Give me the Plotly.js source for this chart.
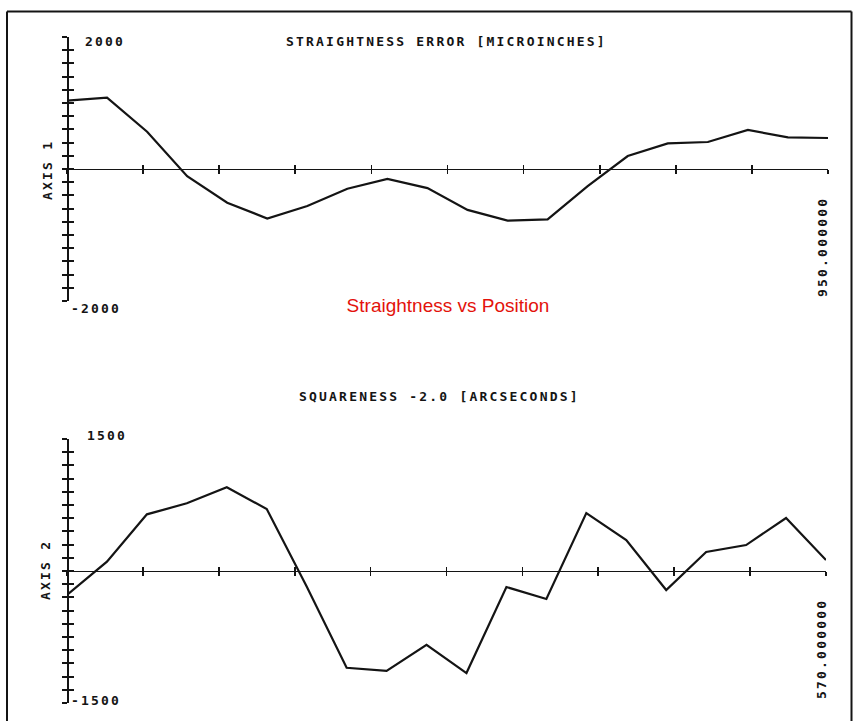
<!DOCTYPE html>
<html>
<head>
<meta charset="utf-8">
<script src="https://cdn.plot.ly/plotly-3.0.1.min.js"></script>
<style>
  html, body { margin: 0; padding: 0; background: #ffffff; }
  #chart { width: 854px; height: 721px; }
  .annotation-text { letter-spacing: 2.2px; }
</style>
</head>
<body>
<div id="chart"></div>
<script>
// ---- data ----
const positionTop = [0, 50, 100, 150, 200, 250, 300, 350, 400, 450, 500, 550, 600, 650, 700, 750, 800, 850, 900, 950];
const straightness = [1035, 1080, 565, -110, -510, -750, -560, -300, -150, -290, -620, -783, -763, -260, 197, 389, 409, 591, 480, 470];

const positionBottom = [0, 30, 60, 90, 120, 150, 180, 210, 240, 270, 300, 330, 360, 390, 420, 450, 480, 510, 540, 570];
const squareness = [-273, 106, 644, 769, 951, 705, -177, -1100, -1136, -840, -1160, -182, -318, 659, 352, -216, 216, 295, 602, 125];

const topTitle = 'STRAIGHTNESS ERROR [MICROINCHES]';
const bottomTitle = 'SQUARENESS -2.0 [ARCSECONDS]';
const topAxisLabel = 'AXIS 1';
const bottomAxisLabel = 'AXIS 2';
const topMaxLabel = '2000';
const topMinLabel = '-2000';
const bottomMaxLabel = '1500';
const bottomMinLabel = '-1500';
const topEndLabel = '950.000000';
const bottomEndLabel = '570.000000';
const chartTitle = 'Straightness vs Position';

// ---- layout helpers ----
const W = 854, H = 721;
const px = v => v / W;
const py = v => 1 - v / H;
const INK = '#141414';
const plotFont = { family: 'DejaVu Sans Mono', size: 13, color: INK, weight: 'bold' };

const topXDomain = [px(67), px(828)];
const botXDomain = [px(67), px(826)];
const topYDomain = [py(301), py(37)];
const botYDomain = [py(703), py(439)];

function xAxis(domain, range, dtick, pos, ticks, showline) {
  return {
    domain: domain, range: range, anchor: 'free', position: pos,
    showline: showline, linecolor: INK, linewidth: 1.3,
    ticks: ticks, ticklen: 4, tickwidth: 1.6, tickcolor: INK,
    tickmode: 'linear', tick0: 0, dtick: dtick,
    showticklabels: false, showgrid: false, zeroline: false, fixedrange: true
  };
}
function yAxis(domain, range, dtick, pos, ticks, showline) {
  return {
    domain: domain, range: range, anchor: 'free', position: pos,
    showline: showline, linecolor: INK, linewidth: 2,
    ticks: ticks, ticklen: 5, tickwidth: 2, tickcolor: INK,
    tickmode: 'linear', tick0: 0, dtick: dtick,
    showticklabels: false, showgrid: false, zeroline: false, fixedrange: true
  };
}

const layout = {
  width: W, height: H,
  margin: { l: 0, r: 0, t: 0, b: 0 },
  paper_bgcolor: '#ffffff', plot_bgcolor: 'rgba(0,0,0,0)',
  showlegend: false,
  title: {
    text: chartTitle,
    x: px(448), y: py(305), xanchor: 'center', yanchor: 'middle',
    font: { family: 'Liberation Sans', size: 19, color: '#e3120b' }
  },
  xaxis: xAxis(topXDomain, [0, 950], 95, py(169), 'outside', true),
  xaxis3: Object.assign(xAxis(topXDomain, [0, 950], 95, py(169), 'inside', false), { overlaying: 'x' }),
  yaxis: yAxis(topYDomain, [-2000, 2000], 200, px(67.5), 'outside', true),
  yaxis3: Object.assign(yAxis(topYDomain, [-2000, 2000], 200, px(67.5), 'inside', false), { overlaying: 'y' }),
  xaxis2: xAxis(botXDomain, [0, 570], 57, py(571), 'outside', true),
  xaxis4: Object.assign(xAxis(botXDomain, [0, 570], 57, py(571), 'inside', false), { overlaying: 'x2' }),
  yaxis2: yAxis(botYDomain, [-1500, 1500], 150, px(67.5), 'outside', true),
  yaxis4: Object.assign(yAxis(botYDomain, [-1500, 1500], 150, px(67.5), 'inside', false), { overlaying: 'y2' }),
  annotations: [
    { text: topTitle, x: px(446), y: py(42), xanchor: 'center', yanchor: 'middle' },
    { text: bottomTitle, x: px(439), y: py(396), xanchor: 'center', yanchor: 'middle' },
    { text: topMaxLabel, x: px(84), y: py(42), xanchor: 'left', yanchor: 'middle' },
    { text: topMinLabel, x: px(70), y: py(308), xanchor: 'left', yanchor: 'middle' },
    { text: bottomMaxLabel, x: px(86), y: py(436), xanchor: 'left', yanchor: 'middle' },
    { text: bottomMinLabel, x: px(70), y: py(700), xanchor: 'left', yanchor: 'middle' },
    { text: topAxisLabel, x: px(47), y: py(170), xanchor: 'center', yanchor: 'middle', textangle: -90 },
    { text: bottomAxisLabel, x: px(45), y: py(570), xanchor: 'center', yanchor: 'middle', textangle: -90 },
    { text: topEndLabel, x: px(822), y: py(247), xanchor: 'center', yanchor: 'middle', textangle: -90 },
    { text: bottomEndLabel, x: px(821), y: py(649), xanchor: 'center', yanchor: 'middle', textangle: -90 }
  ].map(a => Object.assign({ xref: 'paper', yref: 'paper', showarrow: false, font: plotFont, borderpad: 0 }, a)),
  shapes: [
    { type: 'line', xref: 'paper', yref: 'paper', x0: px(7), x1: px(851.5), y0: py(11.5), y1: py(11.5), line: { color: INK, width: 2.2 } },
    { type: 'line', xref: 'paper', yref: 'paper', x0: px(7), x1: px(7), y0: py(11.5), y1: -0.01, line: { color: INK, width: 2 } },
    { type: 'line', xref: 'paper', yref: 'paper', x0: px(851.5), x1: px(851.5), y0: py(11.5), y1: -0.01, line: { color: INK, width: 2 } }
  ]
};

const traces = [
  { x: positionTop, y: straightness, xaxis: 'x', yaxis: 'y', type: 'scatter', mode: 'lines',
    line: { color: INK, width: 2.2 }, hoverinfo: 'skip', cliponaxis: false },
  { x: positionBottom, y: squareness, xaxis: 'x2', yaxis: 'y2', type: 'scatter', mode: 'lines',
    line: { color: INK, width: 2.2 }, hoverinfo: 'skip', cliponaxis: false },
  // invisible companions so the overlaying (inside-tick) axes are drawn
  { x: positionTop, y: straightness, xaxis: 'x3', yaxis: 'y3', type: 'scatter', mode: 'lines',
    line: { color: 'rgba(0,0,0,0)', width: 0 }, hoverinfo: 'skip' },
  { x: positionBottom, y: squareness, xaxis: 'x4', yaxis: 'y4', type: 'scatter', mode: 'lines',
    line: { color: 'rgba(0,0,0,0)', width: 0 }, hoverinfo: 'skip' }
];

Plotly.newPlot('chart', traces, layout, { displayModeBar: false, staticPlot: true });
</script>
</body>
</html>
